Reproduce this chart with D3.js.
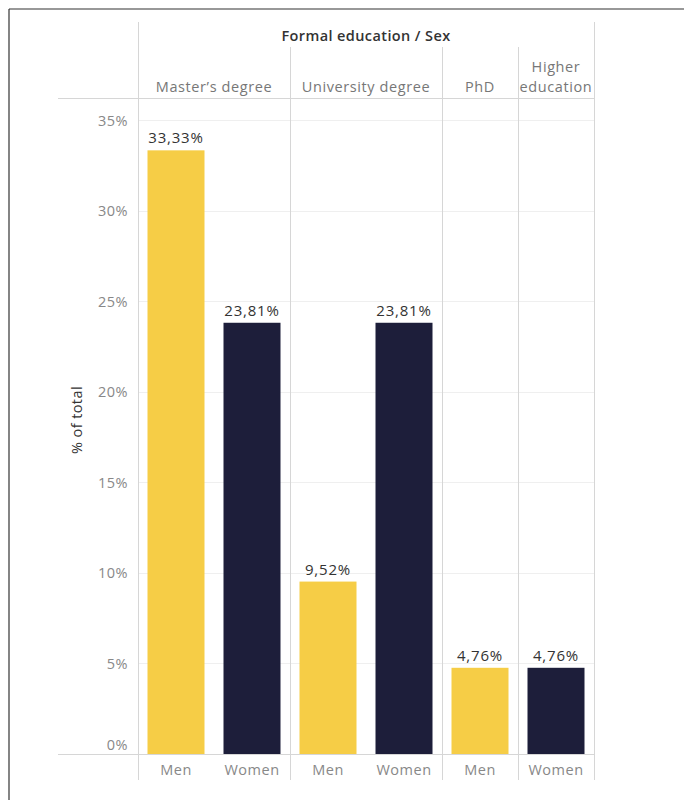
<!DOCTYPE html>
<html>
<head>
<meta charset="utf-8">
<script src="https://cdn.jsdelivr.net/npm/d3@7"></script>
<style>
  html, body { margin: 0; padding: 0; background: #fff; }
  svg { display: block; font-family: "Open Sans", "Noto Sans", sans-serif; }
</style>
</head>
<body>
<svg id="chart" width="684" height="800"></svg>
<script>
// Education categories and the share of respondents per sex (% of total)
const categories = ["Master’s degree", "University degree", "PhD", "Higher education"];
const categoryLines = [["Master’s degree"], ["University degree"], ["PhD"], ["Higher", "education"]];
const sexes = ["Men", "Women"];
const menValues = [33.33, 9.52, 4.76, null];
const womenValues = [23.81, 23.81, null, 4.76];
const yTicks = [0, 5, 10, 15, 20, 25, 30, 35];
const headerTitle = "Formal education / Sex";
const yTitle = "% of total";

const colors = { Men: "#F6CD46", Women: "#1D1E3A" };
const FONT = "'Open Sans', 'Noto Sans', sans-serif";

// Flatten into one column per existing (category, sex) combination
const columns = [];
categories.forEach((cat, i) => {
  const vals = { Men: menValues[i], Women: womenValues[i] };
  sexes.forEach(s => {
    if (vals[s] != null) columns.push({ key: cat + "|" + s, cat, sex: s, value: vals[s] });
  });
});

const svg = d3.select("#chart");

const plotLeft = 138, plotRight = 594;
const plotTop = 98, plotBottom = 754;
const headerTop = 22, subHeaderTop = 47, footerBottom = 780;

const x = d3.scaleBand()
  .domain(columns.map(d => d.key))
  .range([plotLeft, plotRight])
  .paddingInner(0).paddingOuter(0);

const y = d3.scaleLinear()
  .domain([0, 36.22])
  .range([plotBottom, plotTop]);

// Outer frame (top and left edges)
svg.append("line").attr("x1", 9).attr("x2", 684).attr("y1", 9).attr("y2", 9)
  .attr("stroke", "#333").attr("stroke-width", 1.2);
svg.append("line").attr("x1", 9).attr("x2", 9).attr("y1", 9).attr("y2", 800)
  .attr("stroke", "#333").attr("stroke-width", 1.2);

// Gridlines
svg.append("g").selectAll("line")
  .data(yTicks.filter(t => t > 0))
  .join("line")
  .attr("x1", plotLeft).attr("x2", plotRight)
  .attr("y1", d => Math.round(y(d)) + 0.5).attr("y2", d => Math.round(y(d)) + 0.5)
  .attr("stroke", "#efefef");

// Pane boundaries
const paneEdges = [];
categories.forEach(cat => {
  const cols = columns.filter(c => c.cat === cat);
  paneEdges.push({ cat, x0: x(cols[0].key), x1: x(cols[cols.length - 1].key) + x.bandwidth() });
});

svg.append("g").selectAll("line")
  .data(paneEdges.slice(1))
  .join("line")
  .attr("x1", d => Math.round(d.x0) + 0.5).attr("x2", d => Math.round(d.x0) + 0.5)
  .attr("y1", subHeaderTop).attr("y2", footerBottom)
  .attr("stroke", "#d6d6d6");

[plotLeft, plotRight].forEach(px => {
  svg.append("line")
    .attr("x1", px + 0.5).attr("x2", px + 0.5)
    .attr("y1", headerTop).attr("y2", footerBottom)
    .attr("stroke", "#d6d6d6");
});

// Header bottom and zero baseline
[plotTop, plotBottom].forEach(py => {
  svg.append("line")
    .attr("x1", 58).attr("x2", plotRight)
    .attr("y1", py + 0.5).attr("y2", py + 0.5)
    .attr("stroke", "#d6d6d6");
});

// Bars
const barW = x.bandwidth() * 0.75;
svg.append("g").selectAll("rect")
  .data(columns)
  .join("rect")
  .attr("x", d => x(d.key) + (x.bandwidth() - barW) / 2)
  .attr("width", barW)
  .attr("y", d => y(d.value))
  .attr("height", d => y(0) - y(d.value))
  .attr("fill", d => colors[d.sex]);

// Value labels
const fmt = v => v.toFixed(2).replace(".", ",") + "%";
svg.append("g").selectAll("text")
  .data(columns)
  .join("text")
  .attr("x", d => x(d.key) + x.bandwidth() / 2)
  .attr("y", d => y(d.value) - 7)
  .attr("text-anchor", "middle")
  .attr("font-size", 15)
  .attr("letter-spacing", 0.8)
  .attr("fill", "#333")
  .text(d => fmt(d.value));

// Y axis ticks (the bottom label sits just above the baseline)
const yAxis = d3.axisLeft(y).tickValues(yTicks).tickSize(0).tickPadding(0)
  .tickFormat(d => d + "%");
const yg = svg.append("g").attr("transform", `translate(128,0)`).call(yAxis);
yg.select(".domain").remove();
yg.selectAll("text")
  .attr("font-family", FONT)
  .attr("font-size", 14.5)
  .attr("letter-spacing", 0.5)
  .attr("fill", "#888")
  .attr("dy", "0.35em")
  .attr("y", d => d === 0 ? -10 : 0);

// Y axis title
svg.append("text")
  .attr("transform", `translate(82,${(plotTop + plotBottom) / 2 - 6}) rotate(-90)`)
  .attr("text-anchor", "middle")
  .attr("font-size", 14.5)
  .attr("letter-spacing", 0.4)
  .attr("fill", "#333")
  .text(yTitle);

// Header title
svg.append("text")
  .attr("x", (plotLeft + plotRight) / 2)
  .attr("y", 41)
  .attr("text-anchor", "middle")
  .attr("font-size", 14.5)
  .attr("font-weight", 600)
  .attr("letter-spacing", 0.4)
  .attr("fill", "#333")
  .text(headerTitle);

// Category headers
const hdr = svg.append("g").selectAll("text")
  .data(paneEdges)
  .join("text")
  .attr("x", d => (d.x0 + d.x1) / 2)
  .attr("text-anchor", "middle")
  .attr("font-size", 14.5)
  .attr("letter-spacing", 0.6)
  .attr("fill", "#777");
hdr.each(function(d, i) {
  const lines = categoryLines[i];
  const t = d3.select(this);
  lines.forEach((ln, j) => {
    t.append("tspan")
      .attr("x", (d.x0 + d.x1) / 2)
      .attr("y", 92 - (lines.length - 1 - j) * 20)
      .text(ln);
  });
});

// Sex labels beneath bars
const xAxis = d3.axisBottom(x).tickSize(0).tickPadding(0).tickFormat(k => k.split("|")[1]);
const xg = svg.append("g").attr("transform", `translate(0,${plotBottom})`).call(xAxis);
xg.select(".domain").remove();
xg.selectAll("text")
  .attr("font-family", FONT)
  .attr("font-size", 14.5)
  .attr("letter-spacing", 0.5)
  .attr("fill", "#888")
  .attr("dy", 0)
  .attr("y", 21);
</script>
</body>
</html>
